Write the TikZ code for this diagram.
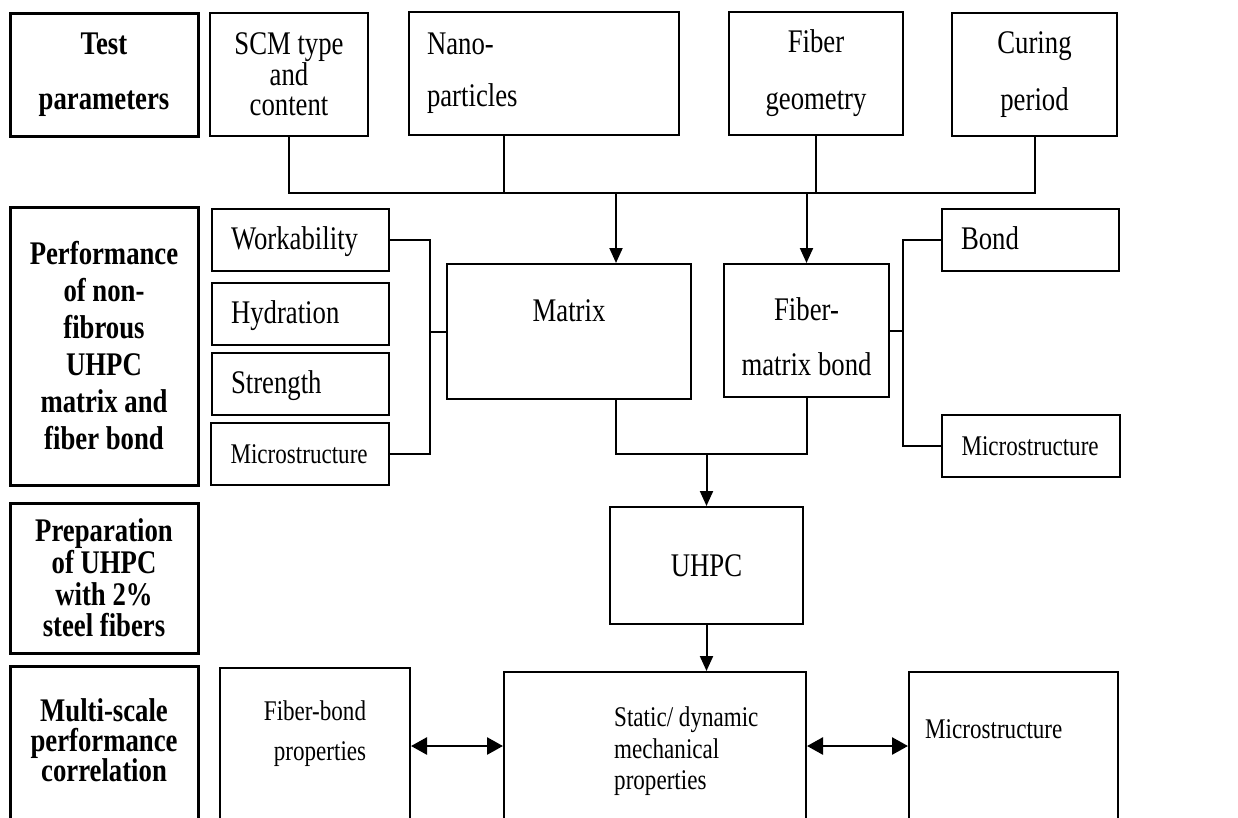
\documentclass[tikz,border=0pt]{standalone}
\usepackage{fontspec}
\setmainfont{Liberation Serif}[FakeStretch=0.81]
\usetikzlibrary{calc,arrows.meta}

\begin{document}
\begin{tikzpicture}[x=1pt,y=-1pt,
    box/.style={draw,line width=2pt,inner sep=0pt,font=\fontsize{33}{30}\selectfont},
    headbox/.style={draw,line width=3pt,inner sep=0pt,minimum width=188pt,align=center,font=\bfseries\fontsize{33}{37}\selectfont},
    itembox/.style={box,minimum width=177pt,minimum height=62pt,text width=139pt,align=left,text height=23pt,text depth=4pt},
    line/.style={line width=2pt},
    arr/.style={line width=2pt,-{Triangle[length=15pt,width=13pt]}},
    dblarr/.style={line width=2.6pt,{Triangle[length=16pt,width=17pt]}-{Triangle[length=16pt,width=17pt]}}]
    \useasboundingbox (0,0) rectangle (1238,817);
    \fill[white] (0,0) rectangle (1238,817);
    \clip (0,0) rectangle (1238,817);
    % Row 1: test parameters
    \node[headbox,minimum height=123pt,font=\bfseries\fontsize{33}{55}\selectfont] (test) at (104,74.5) {Test\\parameters};
    \node[box,minimum width=158pt,minimum height=123pt,align=center] (scm) at (289,74.5) {SCM type\\and\\content};
    \node[box,minimum width=270pt,minimum height=123pt,text width=234pt,align=left,font=\fontsize{33}{52}\selectfont] (nano) at (544,73.5) {Nano-\\particles};
    \node[box,minimum width=174pt,minimum height=123pt,align=center,font=\fontsize{33}{57}\selectfont] (geom) at (816,73.5) {Fiber\\geometry};
    \node[box,minimum width=165pt,minimum height=123pt,align=center,font=\fontsize{33}{57}\selectfont] (cure) at (1034.5,74.5) {Curing\\period};
    % Row 2: matrix and fiber bond
    \node[headbox,minimum height=278pt] (perf) at (104,346) {Performance\\of non-\\fibrous\\UHPC\\matrix and\\fiber bond};
    \node[itembox] (work) at (300.5,240) {Workability};
    \node[itembox] (hydr) at (300.5,313.5) {Hydration};
    \node[itembox] (stren) at (300.5,384) {Strength};
    \node[itembox,minimum width=178pt,font=\fontsize{28.5}{30}\selectfont] (micro) at (300,454) {Microstructure};
    \node[box,minimum width=244pt,minimum height=135pt] (matrix) at (569,331.5) {};
    \node[anchor=base,font=\fontsize{33}{30}\selectfont] (matrix-t) at ($(matrix.north)+(0,58)$) {Matrix};
    \node[box,minimum width=165pt,minimum height=133pt] (fmb) at (806.5,330.5) {};
    \node[align=center,anchor=north,inner sep=0pt,font=\fontsize{33}{55}\selectfont] (fmb-t) at ($(fmb.north)+(0,34)$) {Fiber-\\matrix bond};
    \node[itembox] (bond) at (1030.5,240) {Bond};
    \node[itembox,minimum width=178pt,font=\fontsize{28.5}{30}\selectfont] (micror) at (1031,446) {Microstructure};
    % Row 3: UHPC
    \node[headbox,minimum height=150pt,font=\bfseries\fontsize{33}{31.6}\selectfont] (prep) at (104,578) {Preparation\\of UHPC\\with 2\%\\steel fibers};
    \node[box,minimum width=193pt,minimum height=117pt] (uhpc) at (706.5,565.5) {UHPC};
    % Row 4: correlation, boxes run off the page
    \node[headbox,minimum height=170pt,anchor=north] (multi) at (104,665) {};
    \node[font=\bfseries\fontsize{33}{30}\selectfont,align=center,anchor=north,inner sep=0pt] (multi-t) at ($(multi.north)+(0,33)$) {Multi-scale\\performance\\correlation};
    \node[box,minimum width=190pt,minimum height=170pt,anchor=north] (fbp) at (315,667) {};
    \node[font=\fontsize{28.5}{40}\selectfont,align=center,anchor=north,inner sep=0pt] (fbp-t) at ($(fbp.north)+(0,34)$) {Fiber-bond\\\hspace*{10pt}properties};
    \node[box,minimum width=302pt,minimum height=170pt,anchor=north] (stat) at (655,671) {};
    \node[font=\fontsize{28.5}{31.5}\selectfont,align=left,anchor=north west,inner sep=0pt] (stat-t) at ($(stat.north west)+(111,36)$) {Static/ dynamic\\mechanical\\properties};
    \node[box,minimum width=209pt,minimum height=170pt,anchor=north] (microb) at (1013.5,671) {};
    \node[font=\fontsize{28.5}{30}\selectfont,anchor=north west,inner sep=0pt] (microb-t) at ($(microb.north west)+(17,48)$) {Microstructure};
    % Helper coordinates
    \coordinate (bus) at (0,193);
    \coordinate (lbr) at (430,0);
    \coordinate (rbr) at (903,0);
    \coordinate (merge) at (0,454);
    \coordinate (mid) at (0,746);
    \coordinate (ntop) at ([xshift=-40pt]nano.south);
    \coordinate (mtop) at ([xshift=47pt]matrix.north);
    \coordinate (mbot) at ([xshift=47pt]matrix.south);
    % Parameters to matrix and bond
    \draw[line] (scm.south) -- (scm.south |- bus) -- (cure.south |- bus) -- (cure.south);
    \draw[line] (ntop) -- (ntop |- bus);
    \draw[line] (geom.south) -- (geom.south |- bus);
    \draw[arr] (mtop |- bus) -- (mtop);
    \draw[arr] (fmb.north |- bus) -- (fmb.north);
    % Brackets
    \draw[line] (work.east) -- (work.east -| lbr) -- (micro.east -| lbr) -- (micro.east);
    \draw[line] (matrix.west -| lbr) -- (matrix.west);
    \draw[line] (bond.west) -- (bond.west -| rbr) -- (micror.west -| rbr) -- (micror.west);
    \draw[line] (fmb.east) -- (fmb.east -| rbr);
    % Down to UHPC and properties
    \draw[line] (mbot) -- (mbot |- merge) -- (fmb.south |- merge) -- (fmb.south);
    \draw[arr] (uhpc.north |- merge) -- (uhpc.north);
    \draw[arr] (uhpc.south) -- (uhpc.south |- stat.north);
    \draw[dblarr] (fbp.east |- mid) -- (stat.west |- mid);
    \draw[dblarr] (stat.east |- mid) -- (microb.west |- mid);
\end{tikzpicture}
\end{document}
